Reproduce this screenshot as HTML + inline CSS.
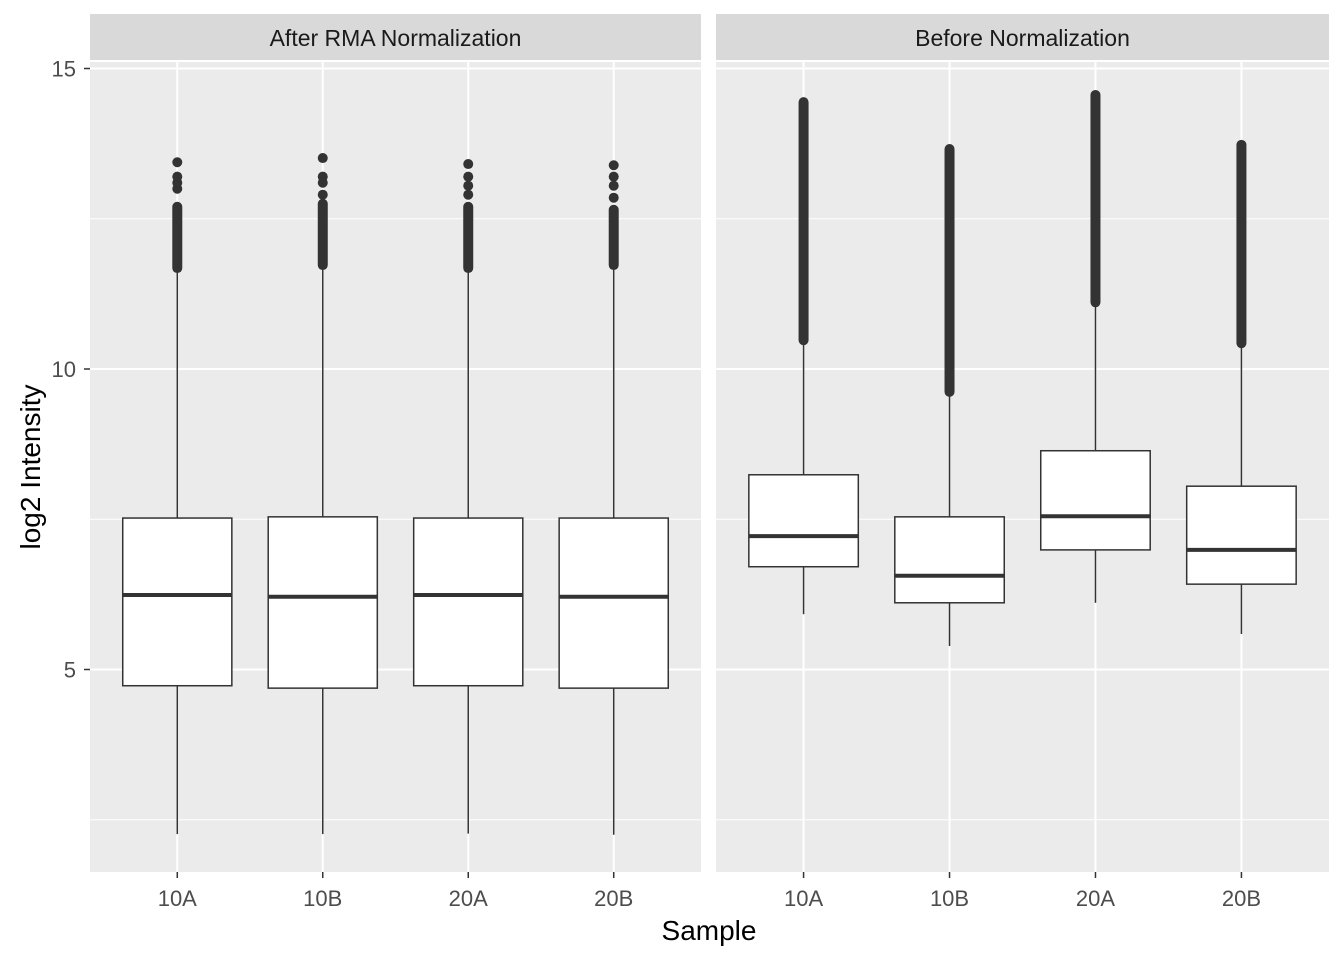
<!DOCTYPE html>
<html><head><meta charset="utf-8"><style>
body{margin:0;background:#fff}
svg{display:block;font-family:"Liberation Sans",Arial,sans-serif}
</style></head><body>
<svg id="chart" width="1344" height="960" xmlns="http://www.w3.org/2000/svg"></svg>
<script>
const panels = ["After RMA Normalization","Before Normalization"];
const categories = ["10A","10B","20A","20B"];
const lowWhisker = [[2.26,2.26,2.27,2.25],[5.92,5.39,6.11,5.59]];
const q1 = [[4.73,4.69,4.73,4.69],[6.71,6.11,6.99,6.42]];
const median = [[6.24,6.21,6.24,6.21],[7.22,6.56,7.55,6.99]];
const q3 = [[7.52,7.54,7.52,7.52],[8.24,7.54,8.64,8.05]];
const highWhisker = [[11.68,11.73,11.68,11.73],[10.48,9.62,11.11,10.43]];
const denseOutlierTop = [[12.7,12.75,12.7,12.65],[14.44,13.66,14.56,13.73]];
const sparseOutliers = [[[13.0,13.1,13.2,13.44],[12.9,13.1,13.2,13.51],[12.9,13.05,13.2,13.41],[12.85,13.05,13.2,13.39]],[[],[],[],[]]];
const yTicks = [5,10,15];
const yMinor = [2.5,7.5,12.5];

const NS="http://www.w3.org/2000/svg";
const svg=document.getElementById('chart');
function el(tag,attrs,parent){const e=document.createElementNS(NS,tag);for(const k in attrs)e.setAttribute(k,attrs[k]);(parent||svg).appendChild(e);return e;}
const y=v=>369-(v-10)*60.1;
const panelX=[[90,701],[716,1329]];
const plotTop=62,plotBottom=872;

panels.forEach((title,p)=>{
  const [x0,x1]=panelX[p];
  const g=el('g',{});
  
  
  const bg=el('rect',{x:x0,y:plotTop,width:x1-x0,height:plotBottom-plotTop,fill:'#ebebeb'},g);
  
  
  const strip=el('rect',{x:x0,y:14,width:x1-x0,height:46,fill:'#d9d9d9'},g);
  
  
  const st=el('text',{x:(x0+x1)/2,y:46,'text-anchor':'middle','font-size':'23',fill:'#1a1a1a'},g);
  st.textContent=title;
  
  
  yMinor.forEach(v=>{const l=el('line',{x1:x0,x2:x1,y1:y(v),y2:y(v),stroke:'#fff','stroke-width':1},g);
    
    });
  yTicks.forEach(v=>{const l=el('line',{x1:x0,x2:x1,y1:y(v),y2:y(v),stroke:'#fff','stroke-width':2},g);
    
    });
  const step=(x1-x0)/(categories.length+0.2);
  categories.forEach((c,i)=>{
    const cx=x0+step*(i+0.6);
    const vl=el('line',{x1:cx,x2:cx,y1:plotTop,y2:plotBottom,stroke:'#fff','stroke-width':2},g);
    
    
    const bw=step*0.75;
    const w1=el('line',{x1:cx,x2:cx,y1:y(lowWhisker[p][i]),y2:y(q1[p][i]),stroke:'#333','stroke-width':1.5},g);
    
    
    const w2=el('line',{x1:cx,x2:cx,y1:y(q3[p][i]),y2:y(highWhisker[p][i]),stroke:'#333','stroke-width':1.5},g);
    
    
    const d=el('line',{x1:cx,x2:cx,y1:y(highWhisker[p][i]),y2:y(denseOutlierTop[p][i]),stroke:'#333','stroke-width':10,'stroke-linecap':'round'},g);
    
    
    sparseOutliers[p][i].forEach(v=>{const pt=el('circle',{cx:cx,cy:y(v),r:5,fill:'#333'},g);
      
      });
    const b=el('rect',{x:cx-bw/2,y:y(q3[p][i]),width:bw,height:y(q1[p][i])-y(q3[p][i]),fill:'#fff',stroke:'#333','stroke-width':1.5},g);
    
    
    const m=el('line',{x1:cx-bw/2,x2:cx+bw/2,y1:y(median[p][i]),y2:y(median[p][i]),stroke:'#333','stroke-width':4},g);
    
    
    const tk=el('line',{x1:cx,x2:cx,y1:plotBottom,y2:plotBottom+6,stroke:'#333','stroke-width':1.5},g);
    
    
    const tl=el('text',{x:cx,y:906,'text-anchor':'middle','font-size':'22',fill:'#4d4d4d'},g);
    tl.textContent=c;
    
    
  });
});
yTicks.forEach(v=>{
  const tk=el('line',{x1:84,x2:90,y1:y(v),y2:y(v),stroke:'#333','stroke-width':1.5});
  
  
  const t=el('text',{x:76,y:y(v)+8,'text-anchor':'end','font-size':'22',fill:'#4d4d4d'});
  t.textContent=v;
  
  
});
const xt=el('text',{x:709,y:940,'text-anchor':'middle','font-size':'28',fill:'#000'});
xt.textContent='Sample';


const yt=el('text',{x:0,y:0,'text-anchor':'middle','font-size':'28',fill:'#000',transform:'translate(40,467) rotate(-90)'});
yt.textContent='log2 Intensity';


</script>
</body></html>
